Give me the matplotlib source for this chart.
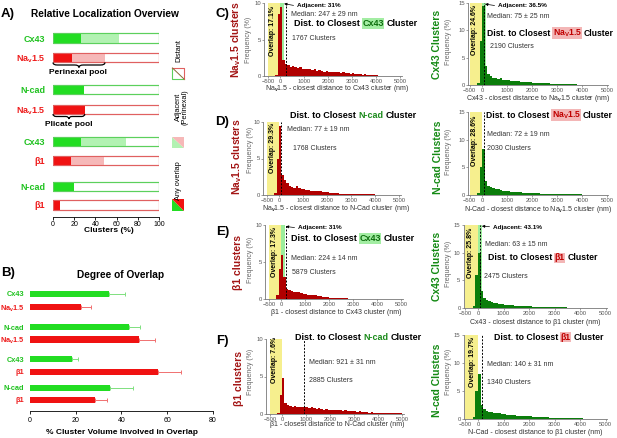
import numpy as np
import matplotlib
matplotlib.use('Agg')
import matplotlib.pyplot as plt
from matplotlib.path import Path
from matplotlib.patches import PathPatch, Polygon, Rectangle

plt.rcParams['font.family'] = ['Liberation Sans', 'DejaVu Sans']
plt.rcParams['mathtext.fontset'] = 'custom'
plt.rcParams['mathtext.rm'] = 'Liberation Sans'
plt.rcParams['mathtext.bf'] = 'Liberation Sans:bold'
plt.rcParams['mathtext.it'] = 'Liberation Sans:italic'

NAV = r'Na$_\mathbf{v}$1.5'
NAVB = r'Na$_\mathbf{V}$1.5'

# ---- A) relative localization (% clusters)
labels_a = ['Cx43', NAV, 'N-cad', NAV, 'Cx43', 'β1', 'N-cad', 'β1']
kind_a = ['g', 'r', 'g', 'r', 'g', 'r', 'g', 'r']
overlap_a = [26, 18, 29, 30, 26, 17, 20, 7]
adjacent_a = [36, 31, 0, 0, 43, 31, 0, 0]

# ---- B) degree of overlap
labels_b = ['Cx43', NAV, 'N-cad', NAV, 'Cx43', 'β1', 'N-cad', 'β1']
kind_b = ['g', 'r', 'g', 'r', 'g', 'r', 'g', 'r']
overlap_b = [34.5, 22.3, 43.3, 47.8, 18.2, 55.9, 35.1, 28.5]
err_b = [7.0, 4.2, 5.0, 7.1, 2.9, 10.4, 9.8, 5.0]

# ---- C-F) histograms, 100 nm bins from -500 to 5000 nm (frequency %)
bin_edges = np.arange(-500, 5001, 100)
hist_nav_cx43 = [0, 0, 0, 0.2, 8.5,
                 9.5, 2.2, 1.6, 1.5, 1.3, 1.4, 1.2, 1.1, 1.2, 1.0,
                 1.0, 0.9, 1.0, 0.8, 0.9, 0.7, 0.8, 0.7, 0.6, 0.7,
                 0.6, 0.5, 0.6, 0.5, 0.5, 0.4, 0.5, 0.4, 0.4, 0.3,
                 0.4, 0.3, 0.3, 0.3, 0.2, 0.3, 0.2, 0.1, 0.1, 0.1,
                 0.1, 0.05, 0.05, 0.05, 0.05, 0.05, 0.03, 0.03, 0.03, 0.03]
hist_cx43_nav = [0, 0, 0, 0.3, 8.0,
                 14.5, 3.5, 2.0, 1.6, 1.3, 1.2, 1.1, 1.2, 0.9, 1.0,
                 0.9, 0.8, 0.8, 0.7, 0.7, 0.6, 0.6, 0.5, 0.5, 0.5,
                 0.4, 0.4, 0.4, 0.3, 0.3, 0.3, 0.3, 0.2, 0.2, 0.2,
                 0.2, 0.2, 0.1, 0.1, 0.1, 0.1, 0.1, 0.1, 0.05, 0.05,
                 0.05, 0.05, 0.05, 0.05, 0.05, 0.05, 0.05, 0.05, 0.05, 0.05]
hist_nav_ncad = [0, 0, 0, 0.3, 5.0,
                 9.5, 2.8, 2.0, 1.6, 1.3, 1.1, 1.0, 1.2, 0.9, 0.8,
                 0.8, 0.7, 0.7, 0.6, 0.6, 0.5, 0.5, 0.5, 0.4, 0.4,
                 0.4, 0.3, 0.3, 0.3, 0.3, 0.2, 0.2, 0.2, 0.2, 0.2,
                 0.1, 0.1, 0.1, 0.1, 0.1, 0.1, 0.1, 0.1, 0.1, 0.1,
                 0.05, 0.05, 0.05, 0.05, 0.05, 0.05, 0.05, 0.05, 0.05, 0.05]
hist_ncad_nav = [0, 0, 0, 0.3, 5.0,
                 8.3, 2.5, 1.6, 1.4, 1.2, 1.0, 1.1, 0.9, 0.8, 0.8,
                 0.7, 0.6, 0.6, 0.6, 0.5, 0.5, 0.4, 0.4, 0.4, 0.3,
                 0.3, 0.3, 0.3, 0.2, 0.2, 0.2, 0.2, 0.2, 0.1, 0.1,
                 0.1, 0.1, 0.1, 0.1, 0.1, 0.1, 0.1, 0.1, 0.1, 0.1,
                 0.05, 0.05, 0.05, 0.05, 0.05, 0.05, 0.05, 0.05, 0.05, 0.05]
hist_b1_cx43 = [0, 0, 0, 0.5, 4.0,
                6.0, 3.0, 1.3, 1.2, 1.1, 1.0, 0.9, 0.9, 0.8, 0.7,
                0.7, 0.6, 0.6, 0.5, 0.5, 0.4, 0.4, 0.3, 0.3, 0.3,
                0.2, 0.2, 0.2, 0.1, 0.1, 0.1, 0.1, 0.1, 0.05, 0.05,
                0.05, 0.05, 0.05, 0.03, 0.03, 0.03, 0.03, 0.02, 0.02, 0.02,
                0.02, 0.02, 0.01, 0.01, 0.01, 0.01, 0.01, 0.01, 0.01, 0.01]
hist_cx43_b1 = [0, 0, 0, 0.3, 6.0,
                10.0, 3.0, 1.8, 1.4, 1.2, 1.0, 0.9, 0.9, 0.8, 0.7,
                0.6, 0.6, 0.5, 0.5, 0.4, 0.4, 0.4, 0.3, 0.3, 0.3,
                0.3, 0.2, 0.2, 0.2, 0.2, 0.2, 0.1, 0.1, 0.1, 0.1,
                0.1, 0.1, 0.1, 0.1, 0.1, 0.05, 0.05, 0.05, 0.05, 0.05,
                0.05, 0.05, 0.05, 0.05, 0.05, 0.05, 0.05, 0.05, 0.05, 0.05]
hist_b1_ncad = [0, 0, 0, 0.2, 2.5,
                4.8, 1.5, 1.2, 1.1, 1.0, 1.1, 1.0, 0.9, 1.0, 0.9,
                0.9, 0.8, 0.9, 0.8, 0.7, 0.8, 0.7, 0.6, 0.7, 0.6,
                0.6, 0.5, 0.6, 0.5, 0.5, 0.4, 0.5, 0.4, 0.4, 0.4,
                0.4, 0.3, 0.4, 0.3, 0.3, 0.3, 0.2, 0.3, 0.2, 0.2,
                0.2, 0.2, 0.1, 0.2, 0.1, 0.1, 0.1, 0.1, 0.1, 0.1]
hist_ncad_b1 = [0, 0, 0, 0.3, 5.0,
                8.0, 2.5, 1.8, 1.5, 1.3, 1.2, 1.1, 1.0, 1.0, 0.9,
                0.9, 0.8, 0.8, 0.7, 0.7, 0.6, 0.6, 0.6, 0.5, 0.5,
                0.5, 0.4, 0.4, 0.4, 0.3, 0.3, 0.3, 0.3, 0.2, 0.2,
                0.2, 0.2, 0.2, 0.1, 0.1, 0.1, 0.1, 0.1, 0.1, 0.1,
                0.1, 0.05, 0.05, 0.05, 0.05, 0.05, 0.05, 0.05, 0.05, 0.05]

medians = [247, 75, 77, 72, 224, 63, 921, 140]

W, H = 617, 438
fig = plt.figure(figsize=(W / 100, H / 100), dpi=100)
rend = fig.canvas.get_renderer()

GREEN, LGREEN, GEDGE = '#22dd22', '#b2f2b2', '#5cd05c'
RED, LRED, REDGE = '#f01212', '#f6b8b8', '#e06060'
GLAB, RLAB = '#1fc21f', '#ee1c1c'
HRED, HGREEN = '#b00000', '#0b7d0b'
DRED, DGREEN = '#a31515', '#148a14'
YEL, ADJ = '#f6ef8e', '#9cee9c'


def pbox(x0, x1, y0, y1):
    return [x0 / W, 1 - y1 / H, (x1 - x0) / W, (y1 - y0) / H]


def ptext(x, y, s, **kw):
    kw.setdefault('va', 'center')
    return fig.text(x / W, 1 - y / H, s, **kw)


def letter(x, y, s):
    ptext(x, y, s, fontsize=9.5, weight='bold', stretch='condensed')


# ================= A =================
letter(1, 14, 'A)')
ptext(105, 14, 'Relative Localization Overview', fontsize=7.3, weight='bold', ha='center')
rows_a = [38, 57.5, 89.5, 109.5, 141.5, 160.5, 186.5, 205]
axA = fig.add_axes(pbox(53, 159, 28, 217))
for yc, k, ov, adj in zip(rows_a, kind_a, overlap_a, adjacent_a):
    solid, light, edge = (GREEN, LGREEN, GEDGE) if k == 'g' else (RED, LRED, REDGE)
    axA.barh(yc, 100, height=9.5, color='white', edgecolor=edge, lw=0.8)
    axA.barh(yc, adj, left=ov, height=9.5, color=light, edgecolor='none')
    axA.barh(yc, ov, height=9.5, color=solid, edgecolor='none')
    axA.barh(yc, 100, height=9.5, color='none', edgecolor=edge, lw=0.8)
axA.set_xlim(0, 100)
axA.set_ylim(217, 28)
axA.set_xticks([0, 20, 40, 60, 80, 100])
axA.set_yticks(rows_a)
axA.set_yticklabels(labels_a, fontsize=6.5, weight='bold')
for lab, k in zip(axA.get_yticklabels(), kind_a):
    lab.set_color(GLAB if k == 'g' else RLAB)
axA.tick_params(axis='y', left=False, pad=2)
axA.tick_params(axis='x', labelsize=5, length=2, width=0.6, pad=1)
for s in ['top', 'right', 'left']:
    axA.spines[s].set_visible(False)
axA.spines['bottom'].set_linewidth(0.6)
ptext(109, 231, 'Clusters (%)', fontsize=6, weight='bold', ha='center')


def brace(ax, x0, x1, y0, d, r=4):
    xm = (x0 + x1) / 2
    h = y0 + d / 2
    verts = [(x0, y0), (x0, h), (x0 + r, h), (xm - r, h), (xm, h), (xm, y0 + d),
             (xm, h), (xm + r, h), (x1 - r, h), (x1, h), (x1, y0)]
    codes = [Path.MOVETO, Path.CURVE3, Path.CURVE3, Path.LINETO, Path.CURVE3, Path.CURVE3,
             Path.CURVE3, Path.CURVE3, Path.LINETO, Path.CURVE3, Path.CURVE3]
    p = PathPatch(Path(verts, codes), fc='none', ec='k', lw=0.9)
    p.set_clip_on(False)
    ax.add_patch(p)


brace(axA, 0, overlap_a[1] + adjacent_a[1], 62.5, 5)
ptext(78, 72.5, 'Perinexal pool', fontsize=6, weight='bold', ha='center')
brace(axA, 0, overlap_a[3], 114, 5, r=3)
ptext(69, 124.5, 'Plicate pool', fontsize=6, weight='bold', ha='center')

# legend squares
axL = fig.add_axes(pbox(165, 195, 28, 217))
axL.set_xlim(165, 195)
axL.set_ylim(217, 28)
axL.axis('off')
x0, x1 = 172.5, 184
for (y0, y1), style in zip([(68, 79), (137, 148), (199, 211)], ['dist', 'adj', 'any']):
    if style == 'dist':
        axL.add_patch(Rectangle((x0, y0), x1 - x0, y1 - y0, fc='white', ec='none'))
        axL.plot([x0, x0, x1], [y0, y1, y1], color=GEDGE, lw=0.8)
        axL.plot([x0, x1, x1], [y0, y0, y1], color=REDGE, lw=0.8)
        axL.plot([x0, x1], [y0, y1], color='#8a6a3a', lw=0.7)
    else:
        g, r = (LGREEN, LRED) if style == 'adj' else (GREEN, RED)
        axL.add_patch(Polygon([(x0, y0), (x0, y1), (x1, y1)], fc=g, ec='none'))
        axL.add_patch(Polygon([(x0, y0), (x1, y0), (x1, y1)], fc=r, ec='none'))
ptext(179, 51, 'Distant', fontsize=5.3, rotation=90, ha='center')
ptext(182, 107, 'Adjacent\n(Perinexal)', fontsize=5.3, rotation=90, ha='center',
      linespacing=0.95, multialignment='center')
ptext(179, 181, 'Any overlap', fontsize=5.3, rotation=90, ha='center')

# ================= B =================
letter(1, 273, 'B)')
ptext(121, 275, 'Degree of Overlap', fontsize=7.3, weight='bold', ha='center')
rows_b = [294, 307, 327, 339.5, 359, 372, 388, 400]
axB = fig.add_axes(pbox(30, 212.7, 285, 411))
for yc, k, v, e in zip(rows_b, kind_b, overlap_b, err_b):
    col = GREEN if k == 'g' else RED
    ecol = '#7fe07f' if k == 'g' else '#f07070'
    axB.barh(yc, v, height=6.5, color=col, edgecolor='none')
    axB.errorbar(v, yc, xerr=[[0], [e]], fmt='none', ecolor=ecol, elinewidth=0.7,
                 capsize=1.5, capthick=0.7)
axB.set_xlim(0, 80)
axB.set_ylim(411, 285)
axB.set_xticks([0, 20, 40, 60, 80])
axB.set_yticks(rows_b)
axB.set_yticklabels(labels_b, fontsize=5.3, weight='bold')
for lab, k in zip(axB.get_yticklabels(), kind_b):
    lab.set_color(GLAB if k == 'g' else RLAB)
axB.tick_params(axis='y', left=False, pad=0.5)
axB.tick_params(axis='x', labelsize=5, length=2, width=0.6, pad=2)
for s in ['top', 'right', 'left']:
    axB.spines[s].set_visible(False)
axB.spines['bottom'].set_linewidth(0.6)
ptext(122, 432, '% Cluster Volume Involved in Overlap', fontsize=6, weight='bold', ha='center')


# ================= C-F histograms =================
def hist_panel(box, xlim, ymax, vals, color, median, band):
    ax = fig.add_axes(pbox(*box))
    ax.axvspan(-500, 0, color=YEL, lw=0, zorder=0)
    if band:
        ax.axvspan(0, 170, color=ADJ, lw=0, zorder=0)
    ax.bar(bin_edges[:-1], vals, width=100, align='edge', color=color, lw=0, zorder=2)
    ax.axvline(median, color='k', ls=(0, (2, 1.5)), lw=0.7, zorder=3)
    ax.set_xlim(*xlim)
    ax.set_ylim(0, ymax)
    ax.set_xticks([-500, 0, 1000, 2000, 3000, 4000, 5000])
    ax.set_yticks(range(0, ymax + 1, 5))
    ax.tick_params(labelsize=4.2, labelcolor='#555555', length=1.5, width=0.5, pad=1, color='#777777')
    for s in ['top', 'right']:
        ax.spines[s].set_visible(False)
    for s in ['left', 'bottom']:
        ax.spines[s].set_linewidth(0.6)
        ax.spines[s].set_color('#777777')
    return ax


def space_width(size):
    a = fig.text(0, 0, 'x x', fontsize=size, weight='bold')
    b = fig.text(0, 0, 'xx', fontsize=size, weight='bold')
    w = a.get_window_extent(rend).width - b.get_window_extent(rend).width
    a.remove()
    b.remove()
    return w


def rich(x, y, word, col, hl, size=6.5):
    sp = space_width(size)
    parts = [('Dist. to Closest', 'k', None), (word, col, hl), ('Cluster', 'k', None)]
    for s, c, h in parts:
        t = ptext(x, y, s, color=c, fontsize=size, weight='bold')
        if h:
            t.set_bbox(dict(facecolor=h, edgecolor='none', pad=0.4))
        x += t.get_window_extent(rend).width + sp


def adjacent(ax, x, y, s, xy):
    ax.annotate(s, xy=xy, xycoords='data', xytext=(x, H - y), textcoords='figure pixels',
                fontsize=4.6, weight='bold', va='center', ha='left',
                arrowprops=dict(arrowstyle='-|>', color='k', lw=0.5, mutation_scale=4,
                                shrinkA=0.5, shrinkB=0, relpos=(0, 0.5)))


def side(xb, yb, xf, yf, s, col):
    ptext(xb, yb, s, rotation=90, ha='center', fontsize=7.5, weight='bold', color=col)
    ptext(xf, yf, 'Frequency (%)', rotation=90, ha='center', fontsize=5, color='#666666')


small = dict(fontsize=5, color='#333333')
ovl = dict(rotation=90, ha='center', fontsize=5, weight='bold')

# C left
letter(215, 14, 'C)')
ax = hist_panel((264.4, 402.4, 3, 76), (-650, 5100), 10, hist_nav_cx43, HRED, medians[0], True)
adjacent(ax, 297, 6, 'Adjacent: 31%', (170, 9.9))
ptext(272, 31, 'Overlap: 17.1%', **ovl)
ptext(291, 15, 'Median: 247 ± 29 nm', **small)
rich(294, 23.5, 'Cx43', '#0e6e0e', '#a3eda3')
ptext(292, 38, '1767 Clusters', **small)
side(236, 40, 249, 40, NAV + ' clusters', DRED)
ptext(337, 89, NAV + ' - closest distance to Cx43 cluster (nm)', ha='center', **small)

# C right
ax = hist_panel((468.25, 608.25, 3, 85), (-550, 5050), 15, hist_cx43_nav, HGREEN, medians[1], True)
adjacent(ax, 498, 6, 'Adjacent: 36.5%', (120, 14.8))
ptext(475, 30, 'Overlap: 24.6%', **ovl)
ptext(487, 17, 'Median: 75 ± 25 nm', **small)
rich(487, 33, NAVB, '#c00000', '#f3b6b6', size=6.2)
ptext(490, 47, '2190 Clusters', **small)
side(437, 44, 448, 42, 'Cx43 Clusters', DGREEN)
ptext(538, 99, 'Cx43 - closest distance to ' + NAV + ' cluster (nm)', ha='center', **small)

# D left
letter(215, 122, 'D)')
ax = hist_panel((263.4, 401.4, 122, 195), (-650, 5100), 10, hist_nav_ncad, HRED, medians[2], False)
rich(290, 115, 'N-cad', '#1a8a1a', None)
ptext(272, 148, 'Overlap: 29.3%', **ovl)
ptext(287, 129, 'Median: 77 ± 19 nm', **small)
ptext(293, 148, '1768 Clusters', **small)
side(237, 157, 250, 150, NAV + ' clusters', DRED)
ptext(336, 208, NAV + ' - closest distance to N-Cad cluster (nm)', ha='center', **small)

# D right
ax = hist_panel((468.25, 608.25, 112, 195), (-550, 5050), 15, hist_ncad_nav, HGREEN, medians[3], False)
rich(486, 115, NAVB, '#c00000', '#f3b6b6', size=6.2)
ptext(475, 141, 'Overlap: 28.6%', **ovl)
ptext(487, 134, 'Median: 72 ± 19 nm', **small)
ptext(487, 148, '2030 Clusters', **small)
side(438, 157, 449, 152, 'N-cad Clusters', DGREEN)
ptext(538, 209, 'N-Cad - closest distance to ' + NAV + ' cluster (nm)', ha='center', **small)

# E left
letter(216, 232, 'E)')
ax = hist_panel((265.4, 403.4, 225, 299), (-650, 5100), 10, hist_b1_cx43, HRED, medians[4], True)
adjacent(ax, 298, 228, 'Adjacent: 31%', (200, 9.8))
ptext(274, 252, 'Overlap: 17.3%', **ovl)
rich(291, 238.5, 'Cx43', '#0e6e0e', '#a3eda3')
ptext(291, 259, 'Median: 224 ± 14 nm', **small)
ptext(292, 272, '5879 Clusters', **small)
side(238, 263, 250, 260, 'β1 clusters', DRED)
ptext(336, 313, 'β1 - closest distance to Cx43 cluster (nm)', ha='center', **small)

# E right
ax = hist_panel((464, 606.8, 225, 308), (-550, 5050), 15, hist_cx43_b1, HGREEN, medians[5], True)
adjacent(ax, 493, 227, 'Adjacent: 43.1%', (150, 14.8))
ptext(471, 253, 'Overlap: 25.8%', **ovl)
ptext(485, 244, 'Median: 63 ± 15 nm', **small)
rich(488, 258, 'β1', '#c00000', '#f3b6b6', size=6.3)
ptext(484, 277, '2475 Clusters', **small)
side(437, 266, 448, 264, 'Cx43 Clusters', DGREEN)
ptext(535, 322, 'Cx43 - closest distance to β1 cluster (nm)', ha='center', **small)

# F left
letter(216, 341, 'F)')
ax = hist_panel((266.4, 404.4, 339, 414), (-650, 5100), 10, hist_b1_ncad, HRED, medians[6], False)
rich(295, 337, 'N-cad', '#1a8a1a', None)
ptext(275, 360, 'Overlap: 7.6%', **ovl)
ptext(309, 363, 'Median: 921 ± 31 nm', **small)
ptext(309, 381, '2885 Clusters', **small)
side(239, 378, 250, 372, 'β1 clusters', DRED)
ptext(337, 425, 'β1 - closest distance to N-Cad cluster (nm)', ha='center', **small)

# F right
ax = hist_panel((464, 606.8, 335, 419), (-550, 5050), 15, hist_ncad_b1, HGREEN, medians[7], False)
rich(494, 337, 'β1', '#c00000', '#f3b6b6', size=6.3)
ptext(472, 362, 'Overlap: 19.7%', **ovl)
ptext(487, 364, 'Median: 140 ± 31 nm', **small)
ptext(487, 382, '1340 Clusters', **small)
side(437, 380, 448, 372, 'N-cad Clusters', DGREEN)
ptext(535, 432, 'N-Cad - closest distance to β1 cluster (nm)', ha='center', **small)

fig.savefig('out.png', dpi=100)
